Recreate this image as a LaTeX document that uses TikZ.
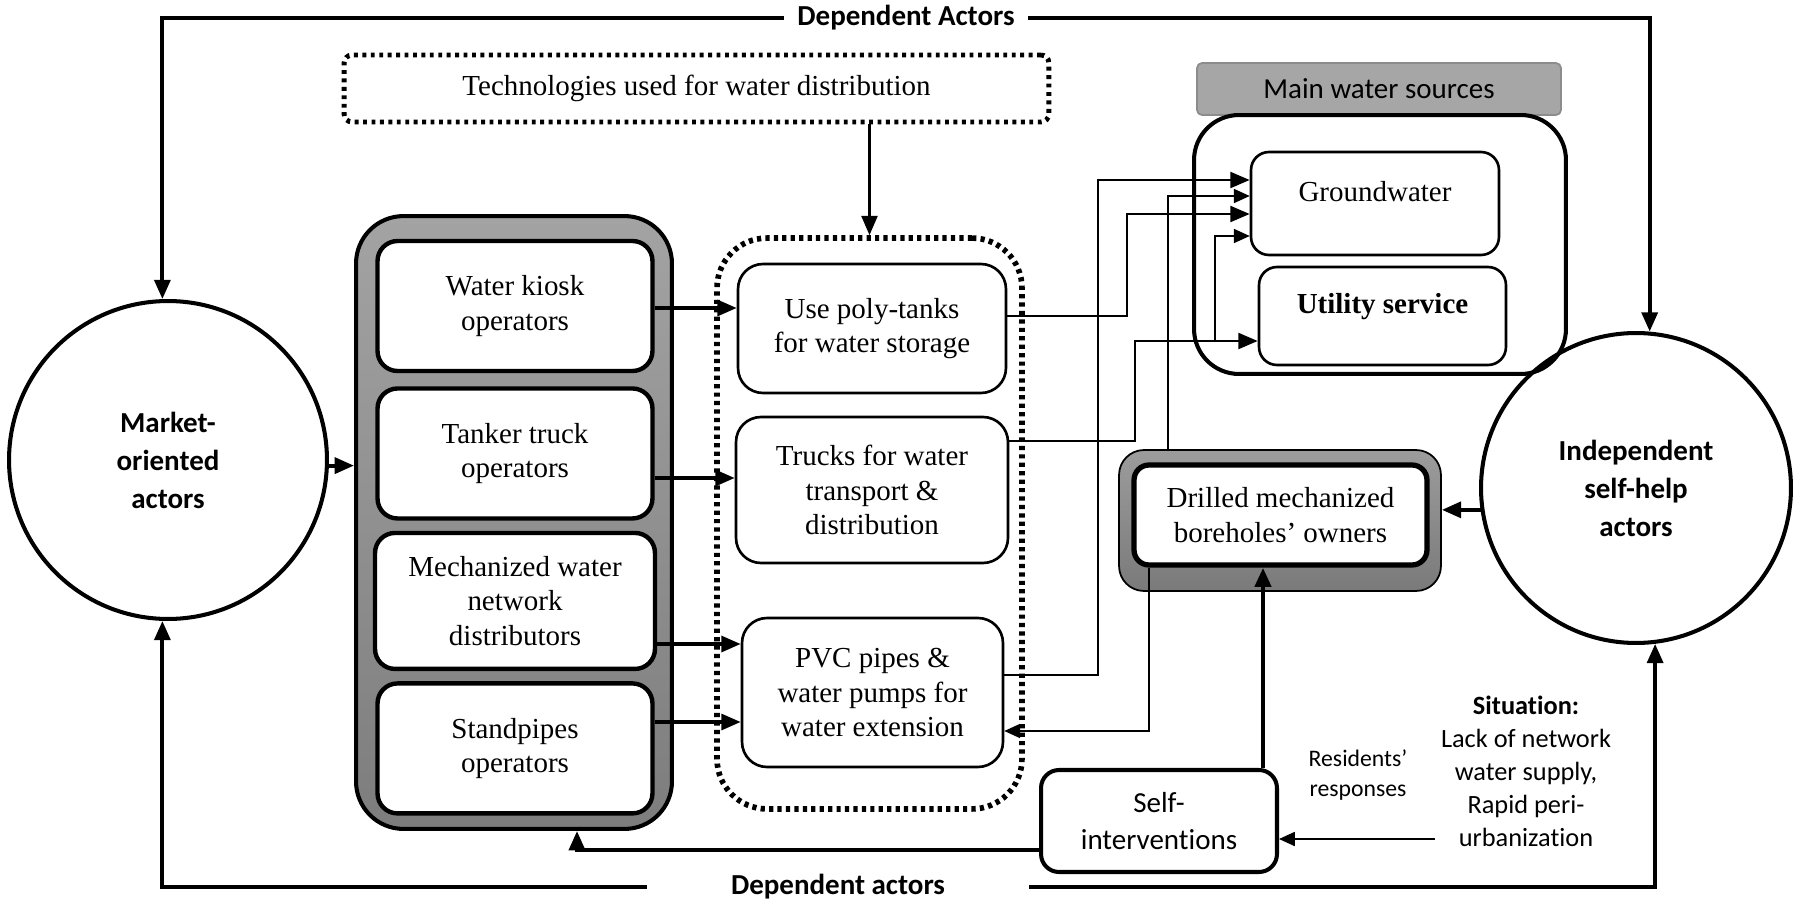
\documentclass[tikz,border=0pt]{standalone}
\usepackage{fontspec}
\setmainfont{Liberation Serif}
\setsansfont{Carlito}[Ligatures=CommonOff]
\usetikzlibrary{arrows.meta}
\definecolor{opstop}{HTML}{A3A3A3}
\definecolor{opsbot}{HTML}{7D7D7D}
\definecolor{boretop}{HTML}{9C9C9C}
\definecolor{borebot}{HTML}{7A7A7A}
\definecolor{hdrfill}{HTML}{A6A6A6}
\definecolor{hdrline}{HTML}{8C8C8C}

\begin{document}
\begin{tikzpicture}[x=0.02cm,y=-0.02cm,>={Triangle[length=11pt,width=9pt]},node distance=2.95cm,
    actor/.style={circle,draw,line width=2.3pt,align=center,font=\sffamily\bfseries\fontsize{16.5}{21.6}\selectfont},
    opbox/.style={draw,fill=white,rounded corners=0.4cm,line width=2.5pt,minimum width=5.5cm,minimum height=2.6cm,align=center,font=\fontsize{16.5}{19.5}\selectfont},
    techbox/.style={draw,fill=white,rounded corners=0.5cm,line width=1.5pt,align=center,font=\fontsize{16.5}{19.5}\selectfont},
    srcbox/.style={draw,fill=white,rounded corners=0.36cm,line width=1.5pt,text depth=0.5cm,font=\fontsize{16.5}{19.5}\selectfont},
    lbl/.style={font=\sffamily\bfseries\fontsize{16.5}{19.5}\selectfont},
    link/.style={->,line width=2.3pt},
    feed/.style={->,line width=1.5pt},
    thinlink/.style={->,line width=0.9pt,>={Triangle[length=9pt,width=8pt]}}]
    \useasboundingbox (0,0) rectangle (1800,906);

    \node[actor,minimum size=6.36cm] (market) at (168,460) {Market-\\oriented\\actors};
    \node[actor,minimum size=6.2cm] (indep) at (1636,488) {Independent\\self-help\\actors};

    \node[draw,line width=2.3pt,rounded corners=0.95cm,top color=opstop,bottom color=opsbot,minimum width=6.32cm,minimum height=12.26cm] (ops) at (514,522.5) {};
    \node[opbox] (kiosk) at (515,306) {Water kiosk\\operators};
    \node[opbox] (tanker) [below of=kiosk] {Tanker truck\\operators};
    \node[opbox,minimum width=5.6cm,minimum height=2.72cm] (mech) [below of=tanker] {Mechanized water\\network\\distributors};
    \node[opbox] (stand) [below of=mech] {Standpipes\\operators};

    \node[draw,line width=2.8pt,dash pattern=on 2.2pt off 2.6pt,rounded corners=0.16cm,minimum width=14.1cm,minimum height=1.34cm,font=\fontsize{16.5}{19.5}\selectfont] (techtop) at (696.5,88.5) {Technologies used for water distribution};
    \node[draw,line width=3.2pt,dash pattern=on 2.4pt off 2.4pt,rounded corners=1cm,minimum width=6.1cm,minimum height=11.42cm] (techgrp) at (869.5,523.5) {};
    \node[techbox,minimum width=5.36cm,minimum height=2.58cm] (poly) at (872,328.5) {Use poly-tanks\\for water storage};
    \node[techbox,minimum width=5.44cm,minimum height=2.92cm] (trucks) at (872,490) {Trucks for water\\transport \&\\distribution};
    \node[techbox,minimum width=5.22cm,minimum height=2.98cm] (pvc) at (872.5,692.5) {PVC pipes \&\\water pumps for\\water extension};

    \node[draw=hdrline,fill=hdrfill,line width=1pt,rounded corners=0.1cm,minimum width=7.28cm,minimum height=1.04cm,font=\sffamily\fontsize{16.5}{19.5}\selectfont] (srchead) at (1379,89) {Main water sources};
    \node[draw,line width=2.3pt,rounded corners=0.9cm,minimum width=7.44cm,minimum height=5.18cm] (sources) at (1380,244.5) {};
    \node[srcbox,minimum width=4.96cm,minimum height=2.06cm] (ground) at (1375,203.5) {Groundwater};
    \node[srcbox,minimum width=4.94cm,minimum height=1.96cm,font=\bfseries\fontsize{16.5}{19.5}\selectfont] (utility) at (1382.5,316) {Utility service};

    \node[draw,line width=1pt,rounded corners=0.5cm,top color=boretop,bottom color=borebot,minimum width=6.44cm,minimum height=2.82cm] (boregray) at (1280,520.5) {};
    \node[draw,fill=white,line width=3pt,rounded corners=0.3cm,minimum width=5.86cm,minimum height=2cm,align=center,font=\fontsize{16.5}{19.5}\selectfont] (bore) at (1280.5,515) {Drilled mechanized\\boreholes’ owners};

    \node[draw,fill=white,line width=2.3pt,rounded corners=0.36cm,minimum width=4.72cm,minimum height=2.04cm,align=center,font=\sffamily\fontsize{16.5}{21}\selectfont] (self) at (1159,821) {Self-\\interventions};
    \node[align=center,font=\sffamily\fontsize{15}{18.8}\selectfont] (situation) at (1526,771) {\textbf{Situation:}\\Lack of network\\water supply,\\Rapid peri-\\urbanization};
    \node[align=center,font=\sffamily\fontsize{13.5}{17}\selectfont] (resp) at (1358,775) {Residents’\\responses};

    \node[lbl,inner xsep=0.26cm] (toplbl) at (906,18) {Dependent Actors};
    \node[lbl,inner xsep=1.68cm] (botlbl) at (838,887) {Dependent actors};

    \draw[link] (toplbl.west) -| (market.92);
    \draw[link] (toplbl.east) -| (indep.85);
    \draw[link] (botlbl.west) -| (market.268);
    \draw[link] (botlbl.east) -| (indep.277);
    \draw[link] (market.-2) -- (ops.west |- market.-2);

    \draw[link,line width=2pt] (kiosk.east |- 0,308) -- (poly.west |- 0,308);
    \draw[link,line width=2pt] (tanker.east |- 0,478) -- (trucks.west |- 0,478);
    \draw[link,line width=2pt] (mech.east |- 0,644) -- (pvc.west |- 0,644);
    \draw[link,line width=2pt] (stand.east |- 0,722) -- (pvc.west |- 0,722);
    \draw[link,line width=1.6pt] (techtop.south -| techgrp.north) -- (techgrp.north);

    \draw[feed] (pvc.east |- 0,675) -| (1098,180) -- (ground.west |- 0,180);
    \draw[feed] (poly.east |- 0,316) -| (1127,214) -- (ground.west |- 0,214);
    \draw[feed] (trucks.east |- 0,441) -| (1135,341) -- (utility.west |- 0,341);
    \draw[thinlink] (1215,341) |- (ground.west |- 0,236);
    \draw[thinlink] (boregray.north -| 1168,0) |- (ground.west |- 0,196);
    \draw[thinlink] (bore.south -| 1149,0) |- (pvc.east |- 0,731);

    \draw[link] (indep.188) -- (boregray.east |- indep.188);
    \draw[link,line width=2.8pt] (self.north -| 1263,0) -- (bore.south -| 1263,0);
    \draw[link] (self.west |- 0,850) -| (ops.south -| 577,0);
    \draw[thinlink] (situation.west |- 0,839) -- (self.east |- 0,839);
\end{tikzpicture}
\end{document}
